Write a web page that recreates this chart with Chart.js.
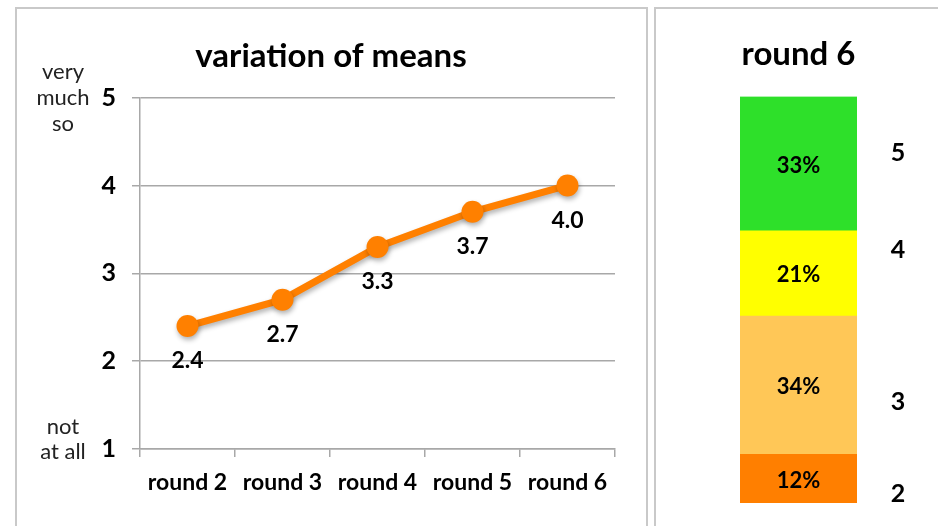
<!DOCTYPE HTML><html>
<head>
  <title>variation of means</title>
  <meta name="viewport" content="width=device-width, initial-scale=1">
  <style>
  html, body {
    margin: 0;
    background: #fff;
    font-family: Lato, "Open Sans", sans-serif;
  }
  body {
    width: 938px;
    height: 526px;
    overflow: hidden;
    position: relative;
  }
  .box {
    position: absolute;
    top: 7px;
    height: 540px;
    border: 2px solid #c9c9c9;
    box-sizing: border-box;
  }
  #box-left { left: 15px; width: 633px; }
  #box-right { left: 654px; width: 320px; }
  canvas { position: absolute; }
  #means-chart { left: 16px; top: 8px; }
  #round-chart { left: 656px; top: 8px; }
  </style>
  <script src="https://cdn.jsdelivr.net/npm/chart.js"></script>
</head>
<body>
  <div class="box" id="box-left"></div>
  <div class="box" id="box-right"></div>
  <canvas id="means-chart" width="630" height="518"></canvas>
  <canvas id="round-chart" width="282" height="518"></canvas>

<script>
  // left chart: mean answer per round
  var rounds = ['round 2', 'round 3', 'round 4', 'round 5', 'round 6'];
  var means = [2.4, 2.7, 3.3, 3.7, 4.0];
  var yTicks = [1, 2, 3, 4, 5];
  var topAnchor = ['very', 'much', 'so'];
  var bottomAnchor = ['not', 'at all'];

  // right chart: share of answers in round 6
  var levels = ['2', '3', '4', '5'];
  var shares = [12, 34, 21, 33];
  var levelColors = ['#FF7F00', '#FFC757', '#FFFF00', '#2EE02A'];
  // vertical nudge for the level names at the right
  var levelLabelShift = [15, 17, -23, -11];

  var fontName = 'Lato, "Open Sans", sans-serif';
  var gridColor = '#a8a8a8';
  var orange = '#FF8000';

  var shadowPlugin = {
    id: 'shadow',
    beforeDatasetsDraw: function(chart) {
      var ctx = chart.ctx;
      ctx.save();
      ctx.shadowColor = 'rgba(0,0,0,0.3)';
      ctx.shadowBlur = 5;
      ctx.shadowOffsetX = 1;
      ctx.shadowOffsetY = 3;
    },
    afterDatasetsDraw: function(chart) {
      chart.ctx.restore();
    }
  };

  var meanLabels = {
    id: 'meanLabels',
    afterDraw: function(chart) {
      var ctx = chart.ctx;
      var meta = chart.getDatasetMeta(0);
      ctx.save();
      ctx.font = 'bold 23px ' + fontName;
      ctx.fillStyle = '#000';
      ctx.textAlign = 'center';
      ctx.textBaseline = 'middle';
      meta.data.forEach(function(pt, i) {
        ctx.fillText(means[i].toFixed(1), pt.x, pt.y + 35);
      });

      // scale end descriptions
      var ys = chart.scales.y;
      ctx.font = '22px ' + fontName;
      ctx.fillStyle = '#222';
      var yTop = ys.getPixelForValue(5);
      topAnchor.forEach(function(t, i) {
        ctx.fillText(t, 47, yTop + (i - 1) * 26);
      });
      var yBot = ys.getPixelForValue(1);
      bottomAnchor.forEach(function(t, i) {
        ctx.fillText(t, 47, yBot + 3 + (i - 1) * 25);
      });
      ctx.restore();
    }
  };

  var barLabels = {
    id: 'barLabels',
    afterDraw: function(chart) {
      var ctx = chart.ctx;
      ctx.save();
      ctx.fillStyle = '#000';
      ctx.textAlign = 'center';
      ctx.textBaseline = 'middle';
      chart.data.datasets.forEach(function(ds, i) {
        var bar = chart.getDatasetMeta(i).data[0];
        var mid = (bar.y + bar.base) / 2;
        ctx.font = 'bold 22px ' + fontName;
        ctx.fillText(shares[i] + '%', bar.x, mid + 2);
        ctx.font = 'bold 25px ' + fontName;
        ctx.fillText(levels[i], 242, mid + levelLabelShift[i]);
      });
      ctx.restore();
    }
  };

  window.addEventListener('load', function() {
    new Chart(document.getElementById('means-chart'), {
      type: 'line',
      data: {
        labels: rounds,
        datasets: [{
          data: means,
          borderColor: orange,
          backgroundColor: orange,
          borderWidth: 7,
          pointRadius: 11,
          pointBorderWidth: 0,
          pointBackgroundColor: orange,
          tension: 0
        }]
      },
      options: {
        responsive: false,
        animation: false,
        layout: { padding: 0 },
        plugins: {
          legend: { display: false },
          tooltip: { enabled: false },
          title: {
            display: true,
            text: 'variation of means',
            color: '#000',
            font: { family: fontName, size: 33, weight: 'bold' },
            padding: { top: 29, bottom: 21 }
          }
        },
        scales: {
          x: {
            offset: true,
            grid: { offset: true, drawOnChartArea: false, color: gridColor, lineWidth: 1.5, tickLength: 8 },
            border: { color: gridColor, width: 1.5 },
            ticks: { color: '#000', font: { family: fontName, size: 23, weight: 'bold' }, padding: 12 },
            afterFit: function(s) { s.height = 77; }
          },
          y: {
            min: 1,
            max: 5,
            afterBuildTicks: function(s) { s.ticks = yTicks.map(function(v) { return { value: v }; }); },
            grid: { color: gridColor, lineWidth: 1.5, tickLength: 8 },
            border: { color: gridColor, width: 1.5 },
            ticks: { color: '#000', font: { family: fontName, size: 25, weight: 'bold' }, padding: 16 },
            afterFit: function(s) { s.width = 124; }
          },
          spacer: {
            position: 'right',
            grid: { display: false },
            border: { display: false },
            ticks: { display: false },
            afterFit: function(s) { s.width = 31; }
          }
        }
      },
      plugins: [shadowPlugin, meanLabels]
    });

    new Chart(document.getElementById('round-chart'), {
      type: 'bar',
      data: {
        labels: ['round 6'],
        datasets: levels.map(function(lv, i) {
          return {
            label: lv,
            data: [shares[i]],
            backgroundColor: levelColors[i],
            borderWidth: 0,
            barPercentage: 1,
            categoryPercentage: 1
          };
        })
      },
      options: {
        responsive: false,
        animation: false,
        layout: { padding: { left: 84, right: 81, top: 0, bottom: 23 } },
        plugins: {
          legend: { display: false },
          tooltip: { enabled: false },
          title: {
            display: true,
            text: 'round 6',
            color: '#000',
            font: { family: fontName, size: 33, weight: 'bold' },
            padding: { top: 27, bottom: 22 }
          }
        },
        scales: {
          x: { stacked: true, display: false },
          y: { stacked: true, display: false, min: 0, max: 100 }
        }
      },
      plugins: [barLabels]
    });
  });
</script>
</body>
</html>
